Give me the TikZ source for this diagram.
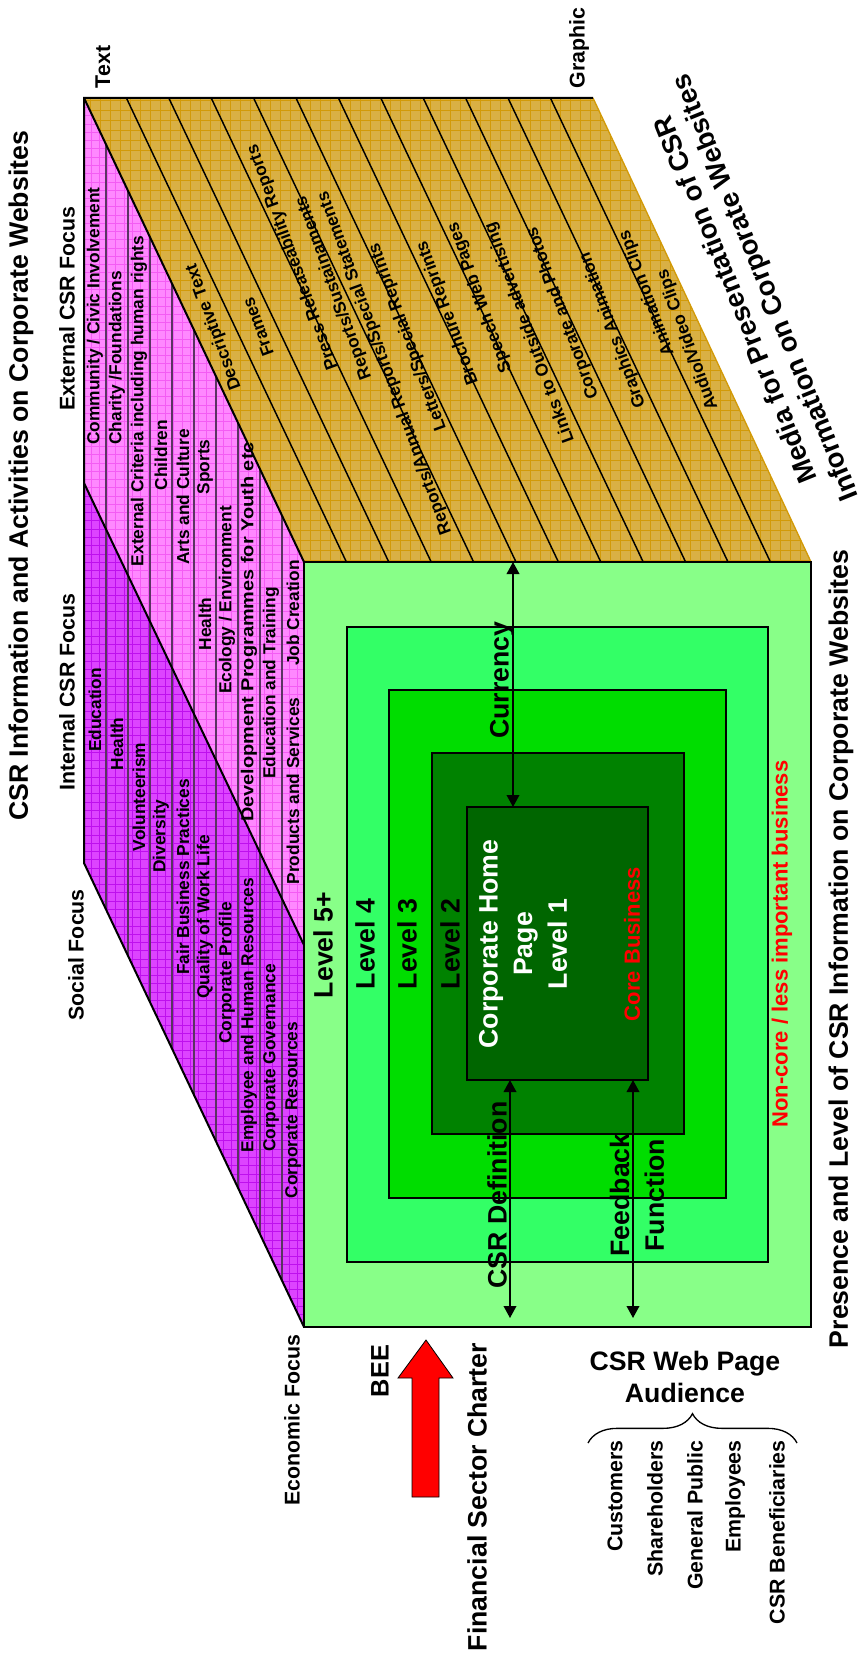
\documentclass[tikz,border=0pt]{standalone}
\usepackage{fontspec}
\setmainfont{Liberation Sans}
\usetikzlibrary{arrows.meta,decorations.pathreplacing,positioning}

\definecolor{goldface}{HTML}{D9B044}
\definecolor{goldgrid}{HTML}{D29A08}
\definecolor{pinkface}{HTML}{FF88FF}
\definecolor{pinkgrid}{HTML}{F45CF4}
\definecolor{purpface}{HTML}{DD44FF}
\definecolor{purpgrid}{HTML}{BE10EE}
\definecolor{stripline}{HTML}{5A3462}
\definecolor{lvlfive}{HTML}{88FF88}
\definecolor{lvlfour}{HTML}{33FF66}
\definecolor{lvlthree}{HTML}{00DD00}
\definecolor{lvltwo}{HTML}{008200}
\definecolor{lvlone}{HTML}{006600}

\begin{document}
\begin{tikzpicture}[x=0.75pt,y=-0.75pt,
    facetxt/.style={rotate=90,font=\fontsize{13}{15}\selectfont\bfseries,inner sep=0pt},
    striptxt/.style={rotate=110,font=\fontsize{13}{15}\selectfont\bfseries,inner sep=0pt},
    lvltxt/.style={rotate=90,font=\fontsize{20}{26}\selectfont\bfseries,align=center,inner sep=0pt},
    sidetxt/.style={rotate=90,font=\fontsize{16}{19}\selectfont\bfseries,inner sep=0pt},
    bigtxt/.style={rotate=90,font=\fontsize{20}{24}\selectfont\bfseries,inner sep=0pt},
    audtxt/.style={rotate=90,font=\fontsize{16}{19}\selectfont\bfseries,inner sep=0pt,anchor=east},
    lvlbox/.style={draw=black,line width=1.1pt},
    dblarrow/.style={{Triangle[length=9pt,width=9.5pt]}-{Triangle[length=9pt,width=9.5pt]},line width=1.1pt}]
    \useasboundingbox (0,0) rectangle (861,1662);

    % corners of the box
    \coordinate (tl) at (84,98);
    \coordinate (tr) at (593,98);
    \coordinate (fl) at (304,562);
    \coordinate (fr) at (811,562);
    \coordinate (fb) at (304,1327);
    \coordinate (fbr) at (811,1327);
    \coordinate (lm) at (84,483);
    \coordinate (lb) at (84,863);
    \coordinate (fm) at (304,945);

    % media face
    \fill[goldface] (tl) -- (tr) -- (fr) -- (fl) -- cycle;
    \begin{scope}
        \clip (tl) -- (tr) -- (fr) -- (fl) -- cycle;
        \draw[goldgrid,line width=0.5pt,xstep=7.5pt,ystep=7.5pt] (80,90) grid (815,570);
    \end{scope}
    \foreach \k in {1,...,11}
        \draw[line width=1.1pt] ({84+42.4*\k},98) -- ({304+42.4*\k},562);
    \draw[goldgrid,line width=1pt] (tr) -- (fr);

    % external and internal faces
    \fill[pinkface] (tl) -- (fl) -- (fm) -- (lm) -- cycle;
    \fill[purpface] (lm) -- (fm) -- (fb) -- (lb) -- cycle;
    \begin{scope}
        \clip (tl) -- (fl) -- (fm) -- (lm) -- cycle;
        \draw[pinkgrid,line width=0.5pt,xstep=6.2pt,ystep=6.2pt] (80,90) grid (310,950);
    \end{scope}
    \begin{scope}
        \clip (lm) -- (fm) -- (fb) -- (lb) -- cycle;
        \draw[purpgrid,line width=0.5pt,xstep=6.2pt,ystep=6.2pt] (80,470) grid (310,1335);
    \end{scope}
    \foreach \k in {1,...,9}
        \draw[stripline,line width=1pt] ({84+22*\k},{98+46.4*\k}) -- ({84+22*\k},{863+46.4*\k});
    \draw[line width=1.5pt] (tr) -- (tl) -- (lb) -- (fb);
    \draw[line width=1.5pt] (tl) -- (fl);
    \draw[line width=1.5pt] (lm) -- (fm);

    % presence levels
    \draw[fill=lvlfive,line width=1.5pt] (fl) rectangle (fbr);
    \draw[lvlbox,fill=lvlfour] (347,627) rectangle (768,1262);
    \draw[lvlbox,fill=lvlthree] (389,690) rectangle (726,1198);
    \draw[lvlbox,fill=lvltwo] (432,753) rectangle (684,1134);
    \draw[lvlbox,fill=lvlone] (467,807) rectangle (648,1080);

    % labels on the external face
    \node[facetxt] (ext1) at (95,316) {Community / Civic Involvement};
    \node[facetxt] (ext2) at (117,358) {Charity /Foundations};
    \node[facetxt] (ext3) at (139,401) {External Criteria including human rights};
    \node[facetxt] (ext4) at (161,455) {Children};
    \node[facetxt] (ext5) at (183,497) {Arts and Culture};
    \node[facetxt] (ext6) at (205,467) {Sports};
    \node[facetxt] (ext7) at (205,624) {Health};
    \node[facetxt] (ext8) at (227,600) {Ecology / Environment};
    \node[facetxt,xscale=1.15] (ext9) at (249,632) {Development Programmes for Youth etc};
    \node[facetxt] (ext10) at (271,683) {Education and Training};
    \node[facetxt] (ext11) at (293,613) {Job Creation};
    \node[facetxt] (ext12) at (293,791) {Products and Services};

    % labels on the internal face
    \node[facetxt] (int1) at (95,710) {Education};
    \node[facetxt] (int2) at (117,744) {Health};
    \node[facetxt] (int3) at (139,797) {Volunteerism};
    \node[facetxt] (int4) at (161,836) {Diversity};
    \node[facetxt] (int5) at (183,877) {Fair Business Practices};
    \node[facetxt] (int6) at (205,917) {Quality of Work Life};
    \node[facetxt] (int7) at (227,973) {Corporate Profile};
    \node[facetxt] (int8) at (249,1015) {Employee and Human Resources};
    \node[facetxt] (int9) at (271,1058) {Corporate Governance};
    \node[facetxt] (int10) at (293,1110) {Corporate Resources};

    % labels on the media face
    \node[striptxt] (med1) at (214,327) {Descriptive Text};
    \node[striptxt] (med2) at (258,327) {Frames};
    \node[striptxt] (med3) at (293,257) {Press Releaseability Reports};
    \node[striptxt] (med4) at (334,288) {Reports/Sustainaments};
    \node[striptxt] (med5) at (385,363) {Reports/Annual Reports/Special Statements};
    \node[striptxt] (med6) at (408,337) {Letters/Special Reprints};
    \node[striptxt] (med7) at (448,313) {Brochure Reprints};
    \node[striptxt] (med8) at (480,297) {Speech Web Pages};
    \node[striptxt] (med9) at (530,333) {Links to Outside advertising};
    \node[striptxt] (med10) at (563,313) {Corporate and Photos};
    \node[striptxt] (med11) at (613,330) {Graphics Animation};
    \node[striptxt] (med12) at (647,293) {Animation Clips};
    \node[striptxt] (med13) at (688,340) {Audio/Video Clips};

    % level labels
    \node[lvltxt] (lv5) at (323,945) {Level 5+};
    \node[lvltxt] (lv4) at (365,944) {Level 4};
    \node[lvltxt] (lv3) at (407,944) {Level 3};
    \node[lvltxt] (lv2) at (450,944) {Level 2};
    \node[lvltxt,text=white] (lv1) at (523,944) {Corporate Home\\Page\\Level 1};
    \node[rotate=90,font=\fontsize{16.5}{19}\selectfont\bfseries,text=red,inner sep=0pt] (core) at (632,944) {Core Business};
    \node[rotate=90,font=\fontsize{16.5}{19}\selectfont\bfseries,text=red,inner sep=0pt] (noncore) at (782,944) {Non-core / less important business};

    % links through the levels
    \coordinate (curtop) at (513,562);
    \coordinate (curbot) at (513,807);
    \coordinate (deftop) at (510,1080);
    \coordinate (defbot) at (510,1318);
    \coordinate (fbtop) at (633,1080);
    \coordinate (fbbot) at (633,1318);
    \draw[dblarrow] (curtop) -- (curbot);
    \draw[dblarrow] (deftop) -- (defbot);
    \draw[dblarrow] (fbtop) -- (fbbot);
    \node[lvltxt] (cur) at (502,680) {Currency};
    \node[lvltxt] (def) at (497,1195) {CSR Definition};
    \node[lvltxt] (fb) at (637,1195) {Feedback\\Function};

    % outside labels
    \node[bigtxt] (title) at (21,476) {CSR Information and Activities on Corporate Websites};
    \node[sidetxt] (extf) at (67,309) {External CSR Focus};
    \node[sidetxt] (intf) at (67,692) {Internal CSR Focus};
    \node[sidetxt] (socf) at (76,955) {Social Focus};
    \node[sidetxt] (ecof) at (292,1420) {Economic Focus};
    \node[sidetxt] (txt) at (103,67) {Text};
    \node[sidetxt] (gra) at (579,48) {Graphic};
    \node[rotate=112,font=\fontsize{20.5}{24}\selectfont\bfseries,align=center,inner sep=0pt] (media) at (752,293) {Media for Presentation of CSR\\Information on Corporate Websites};
    \node[bigtxt] (pres) at (841,949) {Presence and Level of CSR Information on Corporate Websites};

    % charter arrow
    \draw[fill=red,line width=0.6pt] (412,1497) -- (412,1378) -- (398,1378) -- (426,1340) -- (453,1378) -- (439,1378) -- (439,1497) -- cycle;
    \node[rotate=90,font=\fontsize{19}{22}\selectfont\bfseries,inner sep=0pt] (bee) at (380,1371) {BEE};
    \node[bigtxt] (fsc) at (477,1497) {Financial Sector Charter};

    % audience
    \node[font=\fontsize{20}{24}\selectfont\bfseries,align=center,inner sep=0pt] (aud) at (685,1377) {CSR Web Page\\Audience};
    \coordinate (bra) at (588,1443);
    \coordinate (brb) at (797,1443);
    \draw[line width=1pt,decorate,decoration={brace,amplitude=22pt}] (bra) -- (brb);
    \node[audtxt] (aud1) at (615,1440) {Customers};
    \node[audtxt] (aud2) at (655,1440) {Shareholders};
    \node[audtxt] (aud3) at (695,1440) {General Public};
    \node[audtxt] (aud4) at (735,1440) {Employees};
    \node[audtxt] (aud5) at (777,1440) {CSR Beneficiaries};
\end{tikzpicture}
\end{document}
